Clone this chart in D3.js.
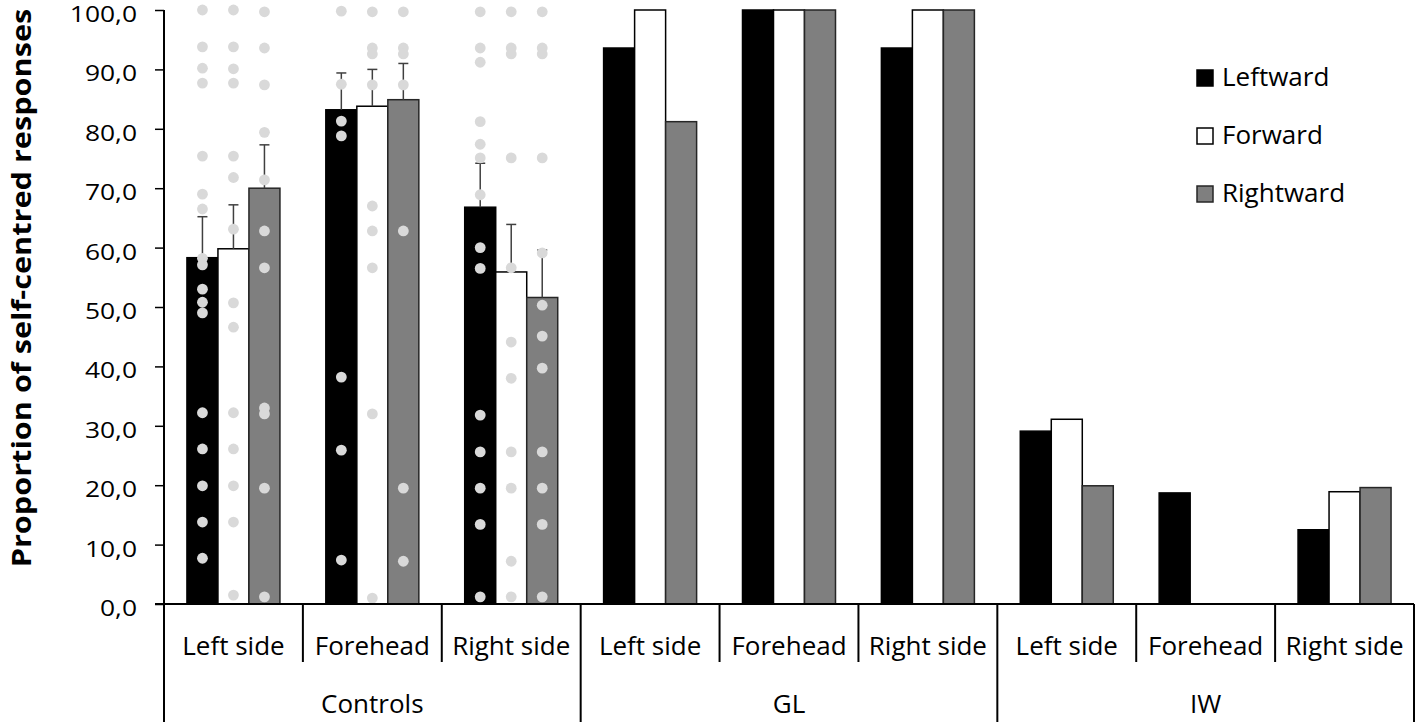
<!DOCTYPE html>
<html><head><meta charset="utf-8">
<script src="https://cdn.jsdelivr.net/npm/d3@7"></script>
<style>body{margin:0;background:#fff;} text{font-family:"Open Sans", Lato, sans-serif; fill:#000;}</style>
</head><body>
<svg id="c" width="1417" height="725"></svg>
<script>
const groups = ["Controls", "GL", "IW"];
const sites = ["Left side", "Forehead", "Right side"];
const series = ["Leftward", "Forward", "Rightward"];
const yTicks = [0,10,20,30,40,50,60,70,80,90,100];

// mean values, order: Controls L/F/R sites, GL, IW; each series
const leftwardVals  = [58.3, 83.2, 66.8, 93.6, 100, 93.6, 29.1, 18.7, 12.5];
const forwardVals   = [59.8, 83.8, 55.9, 100, 100, 100, 31.1, 0, 18.9];
const rightwardVals = [70.0, 84.9, 51.6, 81.2, 100, 100, 19.9, 0, 19.6];
// upper error bar ends (Controls only)
const leftwardErr  = [65.2, 89.4, 74.2];
const forwardErr   = [67.2, 90.0, 63.9];
const rightwardErr = [77.3, 91.0, 59.6];
// individual data points (Controls only)
const ptsCtrlLeftL = [100, 93.8, 90.2, 87.7, 75.4, 69.0, 66.5, 58.2, 57.1, 53.0, 50.8, 49.0, 32.2, 26.1, 19.9, 13.8, 7.7];
const ptsCtrlLeftF = [100, 93.8, 90.1, 87.7, 75.4, 71.8, 63.1, 50.7, 46.6, 32.2, 26.1, 19.9, 13.8, 1.5];
const ptsCtrlLeftR = [99.7, 93.6, 87.4, 79.4, 71.4, 62.8, 56.6, 33.0, 32.0, 19.5, 1.2];
const ptsCtrlForeL = [99.8, 87.5, 81.3, 78.8, 38.2, 25.9, 7.4];
const ptsCtrlForeF = [99.7, 93.6, 92.6, 87.4, 67.0, 62.8, 56.6, 32.0, 1.0];
const ptsCtrlForeR = [99.7, 93.6, 92.6, 87.4, 62.8, 19.5, 7.2];
const ptsCtrlRightL = [99.7, 93.6, 91.2, 81.2, 77.4, 75.1, 68.9, 60.0, 56.5, 31.8, 25.6, 19.5, 13.4, 1.2];
const ptsCtrlRightF = [99.7, 93.6, 92.6, 75.1, 56.6, 44.1, 38.0, 25.6, 19.5, 7.2, 1.2];
const ptsCtrlRightR = [99.7, 93.6, 92.6, 75.1, 59.1, 50.3, 45.1, 39.7, 25.6, 19.5, 13.4, 1.2];

const svg = d3.select("#c");
const x0 = 164, x1 = 1414, yTop = 10, yBot = 604;
const y = d3.scaleLinear().domain([0,100]).range([yBot, yTop]);

const slots = [];
groups.forEach(g => sites.forEach(s => slots.push(g + "|" + s)));
const xs = d3.scaleBand().domain(slots).range([x0, x1]).paddingInner(0).paddingOuter(0);
const xb = d3.scaleBand().domain(series).range([0, xs.bandwidth()]).paddingOuter(0.74).paddingInner(0);
const xg = d3.scaleBand().domain(groups).range([x0, x1]);

const fills = {Leftward:"#000000", Forward:"#ffffff", Rightward:"#7f7f7f"};
const strokes = {Leftward:"#000000", Forward:"#000000", Rightward:"#262626"};
const vals = {Leftward:leftwardVals, Forward:forwardVals, Rightward:rightwardVals};
const errs = {Leftward:leftwardErr, Forward:forwardErr, Rightward:rightwardErr};
const pts = {
  Leftward:[ptsCtrlLeftL, ptsCtrlForeL, ptsCtrlRightL],
  Forward:[ptsCtrlLeftF, ptsCtrlForeF, ptsCtrlRightF],
  Rightward:[ptsCtrlLeftR, ptsCtrlForeR, ptsCtrlRightR]
};

const barData = [];
slots.forEach((sl,i) => series.forEach(s => barData.push({slot:sl, i, s, v: vals[s][i]})));

// bars
svg.append("g").selectAll("rect").data(barData.filter(d=>d.v>0)).join("rect")
  .attr("x", d => xs(d.slot) + xb(d.s))
  .attr("width", xb.bandwidth())
  .attr("y", d => y(d.v))
  .attr("height", d => y(0) - y(d.v))
  .attr("fill", d => fills[d.s])
  .attr("stroke", d => strokes[d.s])
  .attr("stroke-width", 1.5);

// error bars
const errData = [];
[0,1,2].forEach(i => series.forEach(s => errData.push({slot:slots[i], i, s, v: vals[s][i], e: errs[s][i]})));
const eg = svg.append("g").attr("stroke", "#404040").attr("stroke-width", 1.5);
errData.forEach(d => {
  const cx = xs(d.slot) + xb(d.s) + xb.bandwidth()/2;
  eg.append("line").attr("x1", cx).attr("x2", cx).attr("y1", y(d.v)).attr("y2", y(d.e));
  eg.append("line").attr("x1", cx-5).attr("x2", cx+5).attr("y1", y(d.e)).attr("y2", y(d.e));
});

// dots
const dotData = [];
[0,1,2].forEach(i => series.forEach(s => pts[s][i].forEach(v => dotData.push({slot:slots[i], s, v}))));
svg.append("g").selectAll("circle").data(dotData).join("circle")
  .attr("cx", d => xs(d.slot) + xb(d.s) + xb.bandwidth()/2)
  .attr("cy", d => y(d.v))
  .attr("r", 5.4)
  .attr("fill", "#d9d9d9");

// y axis
const sx = 1.2;
const yAxis = d3.axisLeft(y).tickValues(yTicks).tickSize(9).tickPadding(18)
  .tickFormat(d => d3.format(".1f")(d).replace(".", ","));
const ya = svg.append("g").attr("transform", `translate(${x0},0)`).call(yAxis);
ya.select(".domain").attr("stroke", "#000").attr("stroke-width", 2).attr("d", `M0,${yTop}V${yBot}`);
ya.selectAll(".tick line").attr("stroke", "#000").attr("stroke-width", 1.5);
ya.selectAll(".tick text")
  .attr("font-size", 22)
  .attr("fill", "#000")
  .attr("x", -27/sx)
  .attr("dy", "0.52em")
  .attr("transform", `scale(${sx},1)`)
  .style("font-family", "'Open Sans', sans-serif");

// x axis line
svg.append("line").attr("x1", x0-9).attr("x2", x1).attr("y1", yBot).attr("y2", yBot)
  .attr("stroke", "#000").attr("stroke-width", 2);

// dividers
const divG = svg.append("g").attr("stroke", "#000").attr("stroke-width", 2);
slots.forEach((sl,i) => {
  const xx = xs(sl);
  const major = i % 3 === 0;
  divG.append("line").attr("x1", xx).attr("x2", xx).attr("y1", yBot).attr("y2", major ? 722 : 662);
});
divG.append("line").attr("x1", x1).attr("x2", x1).attr("y1", yBot).attr("y2", 722);

// site labels
svg.append("g").selectAll("text").data(slots).join("text")
  .attr("x", d => xs(d) + xs.bandwidth()/2)
  .attr("y", 655)
  .attr("text-anchor", "middle")
  .attr("font-size", 26)
  .text(d => d.split("|")[1]);

// group labels
svg.append("g").selectAll("text").data(groups).join("text")
  .attr("x", d => xg(d) + xg.bandwidth()/2)
  .attr("y", 713)
  .attr("text-anchor", "middle")
  .attr("font-size", 26)
  .text(d => d);

// y title
svg.append("text")
  .attr("transform", `translate(31,288) rotate(-90) scale(1.18,1)`)
  .attr("text-anchor", "middle")
  .attr("font-size", 26)
  .attr("font-weight", "bold")
  .text("Proportion of self-centred responses");

// legend
const lg = svg.append("g");
series.forEach((s,i) => {
  const ly = 70 + i*58;
  lg.append("rect").attr("x", 1197).attr("y", ly).attr("width", 16).attr("height", 16)
    .attr("fill", fills[s]).attr("stroke", strokes[s]).attr("stroke-width", 1.5);
  lg.append("text").attr("x", 1222).attr("y", ly + 16).attr("font-size", 26).text(s);
});
</script>
</body></html>
